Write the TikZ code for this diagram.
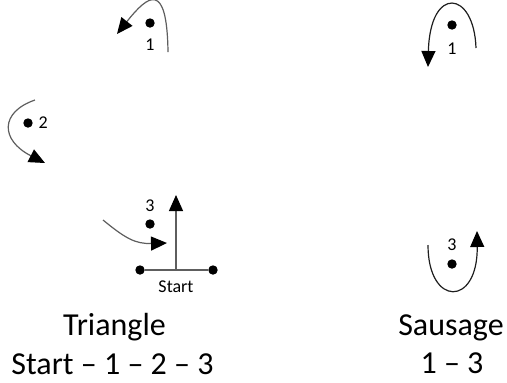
\documentclass[tikz,border=0pt]{standalone}
\usepackage{fontspec}
\setmainfont{Carlito}
\usepackage{tikz}
\usetikzlibrary{arrows.meta,positioning}
\definecolor{cgrey}{HTML}{5E5E5E}
\definecolor{cink}{HTML}{1E1E1E}
\tikzset{
  >={Triangle[length=8pt,width=7pt,color=black]},
  crv/.style={line width=0.6pt,cgrey},
  crvd/.style={line width=0.6pt,cink},
  dot/.style={circle,fill=black,inner sep=0pt,minimum size=4.7pt},
  lbl/.style={inner sep=1pt,font=\fontsize{9}{10}\selectfont},
  captxt/.style={inner sep=0pt,anchor=base,font=\fontsize{16}{18}\selectfont},
}

\begin{document}
\begin{tikzpicture}[x=0.5pt,y=-0.5pt]
\useasboundingbox (0,0) rectangle (507,382);

% ================= TRIANGLE =================
% point 1
\node[dot] (d1) at (150,23) {};
\node[lbl,below=4pt of d1] (l1) {1};
\coordinate (a1s) at (168,52);
\coordinate (a1e) at (117,34);
\draw[crv,->] (a1s) .. controls (167,-20) and (148,-5) .. (a1e);
% point 2
\node[dot] (d2) at (28,123) {};
\node[lbl,right=1.5pt of d2] (l2) {2};
\coordinate (a2s) at (35,100);
\coordinate (a2e) at (45,163);
\draw[crv,->] (a2s) .. controls (0,112) and (0,140) .. (a2e);
% point 3 and start
\node[dot] (d3) at (150,224) {};
\node[lbl,above=2.5pt of d3] (l3) {3};
\coordinate (a3s) at (103,220);
\coordinate (a3e) at (167,243);
\draw[crv,->] (a3s) .. controls (125,238) and (135,244) .. (a3e);
\node[dot] (st1) at (140,270) {};
\node[dot] (st2) at (213,270) {};
\draw[crv] (st1) -- (st2);
\coordinate (mid) at (176,270);
\coordinate (up) at (176,195);
\draw[crv,->] (mid) -- (up);
\node[lbl,below=4pt of mid] (start) {Start};
\node[captxt] (tri) at (114.5,335) {Triangle};
\node[captxt] (trisub) at (112.5,374) {Start -- 1 -- 2 -- 3};

% ================= SAUSAGE =================
\node[dot] (s1) at (452,25) {};
\node[lbl,below=5pt of s1] (m1) {1};
\coordinate (b1s) at (476,48);
\coordinate (b1e) at (428,67);
\draw[crvd,->] (b1s) .. controls (474,-10) and (430,-15) .. (b1e);
\node[dot] (s3) at (452,264) {};
\node[lbl,above=3pt of s3] (m3) {3};
\coordinate (b3s) at (428,245);
\coordinate (b3e) at (477,231);
\draw[crvd,->] (b3s) .. controls (428,307) and (478,307) .. (b3e);
\node[captxt] (sau) at (451,335) {Sausage};
\node[captxt] (sausub) at (452,373) {1 -- 3};

\end{tikzpicture}
\end{document}
